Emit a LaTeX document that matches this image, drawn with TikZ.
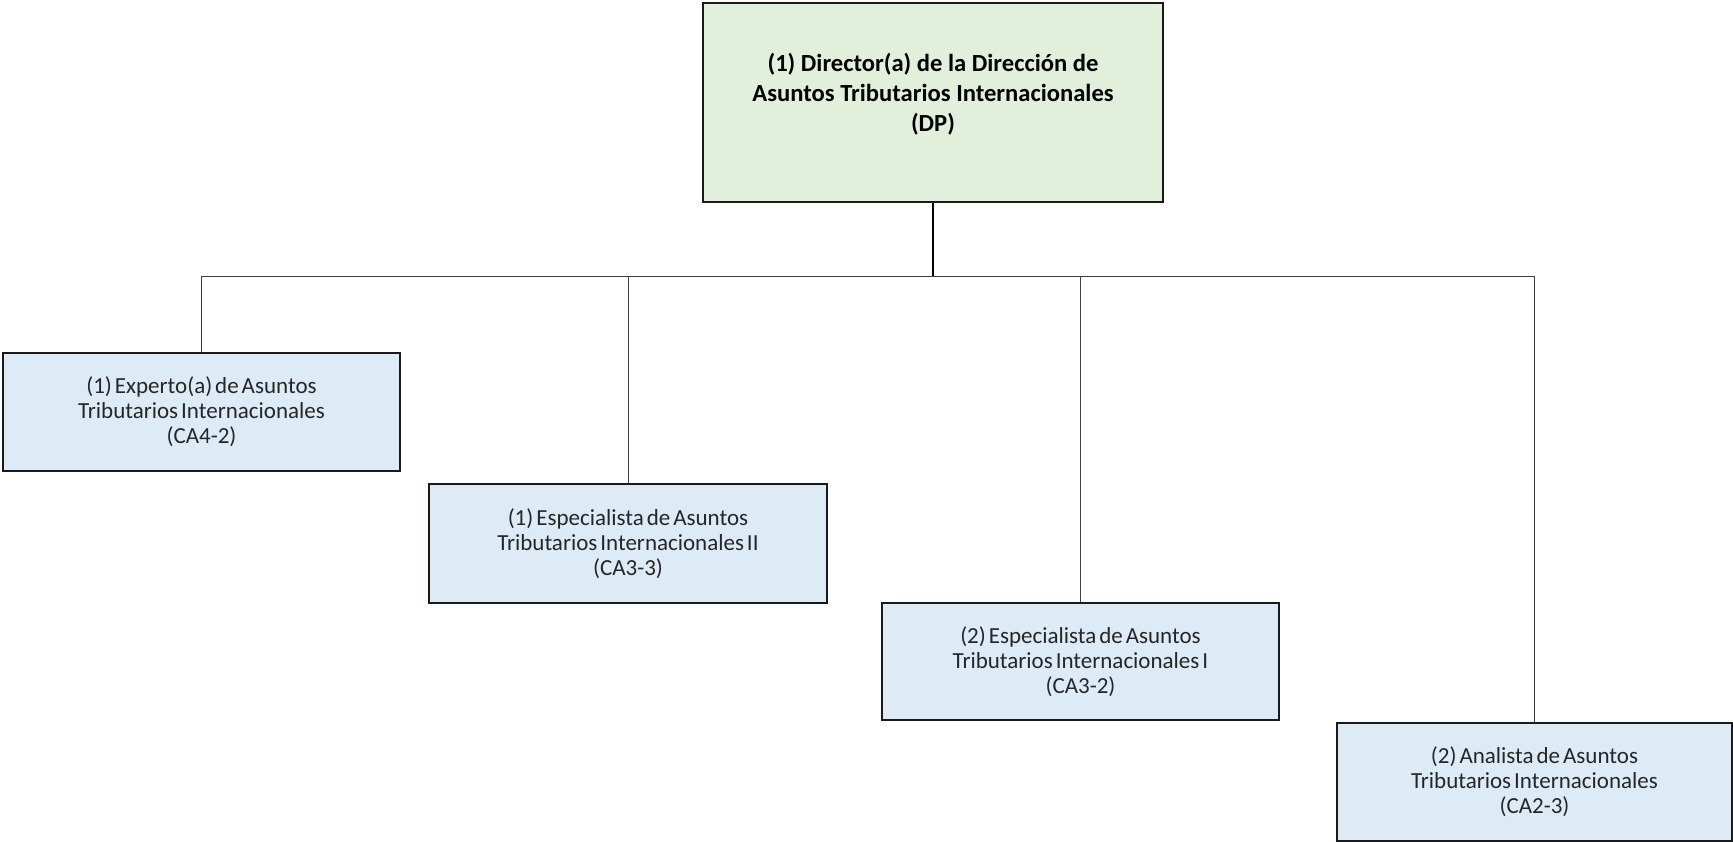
\documentclass[tikz,border=0pt]{standalone}
\usepackage{fontspec}
\setmainfont{Carlito}
\definecolor{topfill}{HTML}{E2EFDA}
\definecolor{boxfill}{HTML}{DDEBF7}
\definecolor{boxline}{HTML}{1A1A1A}
\definecolor{wire}{HTML}{404040}
\definecolor{txt}{HTML}{262626}
\newcommand{\tightwords}{\spaceskip=0.13em\relax}
\begin{document}
\begin{tikzpicture}[x=1pt,y=-1pt,
  topbox/.style={draw=boxline,line width=2pt,fill=topfill,minimum width=460pt,minimum height=199pt,
    align=center,font=\fontsize{24.6}{30}\selectfont\bfseries,text=black,inner sep=0pt},
  rolebox/.style={draw=boxline,line width=2pt,fill=boxfill,minimum width=397pt,minimum height=118pt,
    align=center,font=\fontsize{23}{25}\selectfont,text=txt,inner sep=0pt},
  wireline/.style={draw=wire,line width=1pt},
  stem/.style={draw=black,line width=2pt}]
\useasboundingbox (0,0) rectangle (1733,842);
\node[topbox] (top) at (933,102.5) {\raisebox{7pt}[\height][\depth]{\begin{tabular}{@{}c@{}}(1) Director(a) de la Dirección de\\Asuntos Tributarios Internacionales\\(DP)\end{tabular}}};
\node[rolebox] (b1) at (201.5,412) {\tightwords(1) Experto(a) de Asuntos\\\tightwords Tributarios Internacionales\\(CA4-2)};
\node[rolebox,minimum width=398pt,minimum height=119pt] (b2) at (628,543.5) {\tightwords(1) Especialista de Asuntos\\\tightwords Tributarios Internacionales II\\(CA3-3)};
\node[rolebox,minimum height=117pt] (b3) at (1080.5,661.5) {\tightwords(2) Especialista de Asuntos\\\tightwords Tributarios Internacionales I\\(CA3-2)};
\node[rolebox,minimum width=395pt] (b4) at (1534.5,782) {\tightwords(2) Analista de Asuntos\\\tightwords Tributarios Internacionales\\(CA2-3)};
\coordinate (bus) at (933,277);
\draw[stem] (top.south) -- (bus);
\draw[wireline] (b1.north) |- (bus);
\draw[wireline] (b2.north) |- (bus);
\draw[wireline] (b3.north) |- (bus);
\draw[wireline] (b4.north) |- (bus);
\end{tikzpicture}
\end{document}
